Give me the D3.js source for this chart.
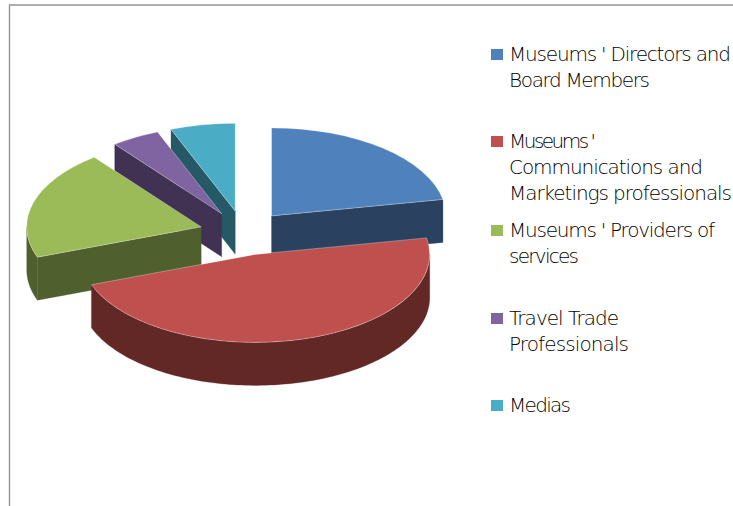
<!DOCTYPE html>
<html><head><meta charset="utf-8">
<script src="https://cdn.jsdelivr.net/npm/d3@7/dist/d3.min.js"></script>
<style>html,body{margin:0;padding:0;background:#fff;overflow:hidden}svg{display:block}</style>
</head><body><div id="chart"></div>
<script>
const categories = ["Museums ' Directors and Board Members","Museums ' Communications and Marketings professionals","Museums ' Providers of services","Travel Trade Professionals","Medias"];
const values = [22, 47.4, 20.1, 4.5, 6];
const legendLines = [["Museums ' Directors and","Board Members"],["Museums '","Communications and","Marketings professionals"],["Museums ' Providers of","services"],["Travel Trade","Professionals"],["Medias"]];
const legendLineWidths = [[222,141],[87,194,223],[206,70],[110,120],[62]];
const topColors = ["#4F81BD","#C0504D","#9BBB59","#8064A2","#4BACC6"];
const sideColors = ["#2A4260","#622825","#4F5F2E","#413253","#265966"];
const legendBaselines = [61,148,237,325,412];

const W=733,H=506, cx=243.5, cy=233, rx=174.5, ry=88, depth=43, explode=44;
const svg=d3.select("#chart").append("svg").attr("width",W).attr("height",H);

svg.append("path").attr("d","M9.5,506V5H733").attr("fill","none").attr("stroke","#949494").attr("stroke-width",1.4);

const pie=d3.pie().sort(null).value(d=>d)(values);
const xScale=d3.scaleLinear().domain([-1,1]).range([-rx,rx]);
const yScale=d3.scaleLinear().domain([-1,1]).range([-ry,ry]);
const line=d3.line().curve(d3.curveLinear);
const arcGen=d3.arc().innerRadius(0).outerRadius(1);
const order=[4,3,0,2,1];
const g=svg.append("g");
order.forEach(i=>{
  const s=pie[i], mid=(s.startAngle+s.endAngle)/2;
  const ox=cx+explode*Math.sin(mid), oy=cy-explode*(ry/rx)*Math.cos(mid);
  const rim=(a,dz=0)=>[ox+xScale(Math.sin(a)),oy+yScale(-Math.cos(a))+dz];
  const wall=(a)=>{const p=rim(a);
    return line([[ox,oy],p,[p[0],p[1]+depth],[ox,oy+depth]])+"Z";};
  const side=sideColors[i];
  [[s.startAngle,-Math.PI/2],[s.endAngle,Math.PI/2]].forEach(([a,d])=>{
    if(-Math.cos(a+d)>0.02) g.append("path").attr("d",wall(a)).attr("fill",side).attr("stroke",side).attr("stroke-width",.3);
  });
  const a0=Math.max(s.startAngle,Math.PI/2), a1=Math.min(s.endAngle,3*Math.PI/2);
  if(a1>a0){
    const ang=d3.range(0,121).map(n=>a0+(a1-a0)*n/120);
    const pts=ang.map(a=>rim(a)).concat(ang.slice().reverse().map(a=>rim(a,depth)));
    g.append("path").attr("d",line(pts)+"Z").attr("fill",side).attr("stroke",side).attr("stroke-width",.3);
  }
  g.append("path").attr("d",arcGen(s)).attr("fill",topColors[i])
   .attr("transform",`translate(${ox},${oy}) scale(${rx},${ry})`)
   .attr("stroke","#fff").attr("stroke-opacity",.4).attr("stroke-width",.8).attr("vector-effect","non-scaling-stroke");
});

const lg=svg.append("g");
categories.forEach((c,i)=>{
  const y=legendBaselines[i];
  lg.append("rect").attr("x",491).attr("y",y-12).attr("width",12).attr("height",11).attr("fill",topColors[i]);
  const t=lg.append("text").attr("font-family","DejaVu Sans").attr("font-weight",200).attr("font-size",20).attr("fill","#000");
  legendLines[i].forEach((l,j)=>t.append("tspan").attr("x",509).attr("y",y+j*26.2)
     .attr("textLength",legendLineWidths[i][j]).attr("lengthAdjust","spacing").text(l));
});
</script></body></html>
